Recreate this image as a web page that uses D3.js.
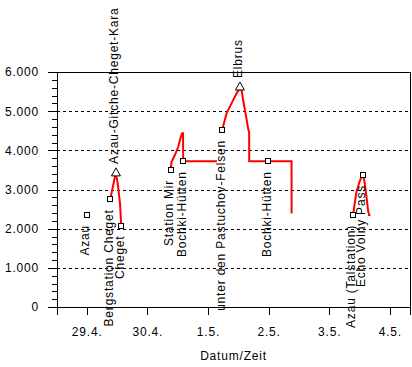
<!DOCTYPE html>
<html>
<head>
<meta charset="utf-8">
<script src="https://cdn.jsdelivr.net/npm/d3@7"></script>
<style>
  body { margin: 0; background: #fff; }
  text { font-family: "Liberation Sans", Arial, sans-serif; font-size: 12px; letter-spacing: 0.8px; fill: #000; }
</style>
</head>
<body>
<div id="chart"></div>
<script>
// track of the tour (null = gap in the record)
var trackTime = [
  "29.04.2006 09:20", "29.04.2006 11:12", "29.04.2006 11:35", "29.04.2006 12:16", "29.04.2006 13:11", "29.04.2006 13:41",
  "29.04.2006 14:00",
  "30.04.2006 09:14", "30.04.2006 09:37", "30.04.2006 10:55", "30.04.2006 12:14", "30.04.2006 13:18", "30.04.2006 13:49",
  "30.04.2006 14:10", "30.04.2006 14:12", "01.05.2006 03:33",
  "01.05.2006 04:00",
  "01.05.2006 05:38", "01.05.2006 07:23", "01.05.2006 09:21", "01.05.2006 11:20", "01.05.2006 12:22", "01.05.2006 13:19",
  "01.05.2006 13:57", "01.05.2006 15:01", "01.05.2006 15:56", "01.05.2006 16:19", "01.05.2006 16:21", "02.05.2006 09:06",
  "02.05.2006 09:08",
  "02.05.2006 12:00",
  "03.05.2006 09:28", "03.05.2006 10:08", "03.05.2006 10:48", "03.05.2006 11:50", "03.05.2006 12:47", "03.05.2006 13:25",
  "03.05.2006 14:05", "03.05.2006 14:46", "03.05.2006 15:23", "03.05.2006 15:47", "03.05.2006 16:21"
];
var trackElev = [
  2750, 3330, 3400, 3170, 2650, 2080,
  null,
  3500, 3710, 3880, 4090, 4350, 4435,
  4435, 3720, 3720,
  null,
  4520, 4945, 5200, 5455, 5560, 5540,
  5285, 4900, 4550, 4460, 3720, 3720,
  2390,
  null,
  2350, 2650, 2945, 3160, 3325, 3395,
  3160, 2815, 2475, 2350, 2350
];

// waypoints
var wpName = ["Azau", "Bergstation Cheget", "Azau-Gitche-Cheget-Kara", "Cheget", "Station Mir", "Bochki-Hütten",
  "unter den Pastuchov-Felsen", "Elbrus", "Bochki-Hütten", "Azau (Talstation)", "Echo Volny Pass"];
var wpTime = ["29.04.2006 00:00", "29.04.2006 09:20", "29.04.2006 11:35", "29.04.2006 13:41", "30.04.2006 09:14",
  "30.04.2006 14:12", "01.05.2006 05:38", "01.05.2006 12:40", "01.05.2006 23:50", "03.05.2006 09:28", "03.05.2006 13:25"];
var wpElev = [2350, 2750, 3450, 2080, 3500, 3720, 4520, 5642, 3720, 2350, 3370];
var wpType = ["hut", "hut", "peak", "hut", "hut", "hut", "hut", "peak", "hut", "hut", "hut"];

var yTicks = [0, 1000, 2000, 3000, 4000, 5000, 6000];
var xTicks = ["29.04.2006 00:00", "30.04.2006 00:00", "01.05.2006 00:00", "02.05.2006 00:00", "03.05.2006 00:00", "04.05.2006 00:00"];
var xDomain = ["28.04.2006 12:15", "04.05.2006 08:00"];

var parse = d3.timeParse("%d.%m.%Y %H:%M");

var margin = {top: 72, right: 2, bottom: 60, left: 57},
    W = 412, H = 367,
    width = W - margin.left - margin.right,
    height = H - margin.top - margin.bottom;

var svg = d3.select("#chart").append("svg")
    .attr("width", W)
    .attr("height", H)
  .append("g")
    .attr("transform", "translate(" + margin.left + "," + margin.top + ")");

var x = d3.scaleTime().domain(xDomain.map(parse)).range([0, width]);
var y = d3.scaleLinear().domain([0, 6000]).range([height, 0]);

// grid
svg.selectAll(".grid")
    .data(yTicks.filter(function(d){ return d > 0 && d < 6000; }))
    .enter().append("line")
    .attr("x1", 0).attr("x2", width)
    .attr("y1", function(d){ return Math.round(y(d)) + 0.5; })
    .attr("y2", function(d){ return Math.round(y(d)) + 0.5; })
    .attr("stroke", "#000")
    .attr("stroke-dasharray", "3,3");

// minor y ticks
svg.append("g")
    .call(d3.axisLeft(y).tickValues(d3.range(0, 6001, 200)).tickSize(5).tickFormat(""))
    .call(function(g){ g.select(".domain").remove(); });

var fmtY = function(d){ return d === 0 ? "0" : d3.format(",")(d).replace(",", "."); };
var yAxis = svg.append("g")
    .call(d3.axisLeft(y).tickValues(yTicks).tickSize(9).tickPadding(9).tickFormat(fmtY));

var xAxis = svg.append("g")
    .attr("transform", "translate(0," + height + ")")
    .call(d3.axisBottom(x).tickValues(xTicks.map(parse)).tickSize(8).tickPadding(12).tickFormat(d3.timeFormat("%-d.%-m.")));

svg.selectAll(".tick line, .domain").attr("stroke", "#000").attr("shape-rendering", "crispEdges");
svg.selectAll(".tick text").attr("font-size", null).attr("font-family", null);
yAxis.attr("font-size", null).attr("font-family", null);
xAxis.attr("font-size", null).attr("font-family", null);

// frame
svg.append("rect")
    .attr("x", 0).attr("y", 0)
    .attr("width", width).attr("height", height)
    .attr("fill", "none").attr("stroke", "#000")
    .attr("shape-rendering", "crispEdges");

svg.append("text")
    .attr("x", width / 2)
    .attr("y", height + 53)
    .attr("text-anchor", "middle")
    .text("Datum/Zeit");

// track
var track = trackTime.map(function(t, i){ return {t: parse(t), v: trackElev[i]}; });
var line = d3.line()
    .defined(function(d){ return d.v !== null; })
    .x(function(d){ return x(d.t); })
    .y(function(d){ return y(d.v); });

svg.append("path")
    .datum(track)
    .attr("d", line)
    .attr("fill", "none")
    .attr("stroke", "#ff0000")
    .attr("stroke-width", 2);

// waypoints
var wps = wpName.map(function(n, i){ return {name: n, t: parse(wpTime[i]), v: wpElev[i], type: wpType[i]}; });

svg.selectAll(".hut")
    .data(wps.filter(function(d){ return d.type === "hut"; }))
    .enter().append("rect")
    .attr("class", "hut")
    .attr("x", function(d){ return Math.round(x(d.t)) - 2.5; })
    .attr("y", function(d){ return Math.round(y(d.v)) - 2.5; })
    .attr("width", 5).attr("height", 5)
    .attr("fill", "#fff").attr("stroke", "#000");

svg.selectAll(".peak")
    .data(wps.filter(function(d){ return d.type === "peak"; }))
    .enter().append("path")
    .attr("class", "peak")
    .attr("transform", function(d){ return "translate(" + x(d.t) + "," + y(d.v) + ")"; })
    .attr("d", "M0,-4L4.5,4L-4.5,4Z")
    .attr("fill", "#fff").attr("stroke", "#000");

svg.selectAll(".wplabel")
    .data(wps)
    .enter().append("text")
    .attr("class", "wplabel")
    .attr("transform", function(d){
        var off = d.type === "peak" ? -8 : 10;
        return "translate(" + x(d.t) + "," + (y(d.v) + off) + ") rotate(-90)";
    })
    .attr("dy", "0.2em")
    .attr("text-anchor", function(d){ return d.type === "peak" ? "start" : "end"; })
    .text(function(d){ return d.name; });
</script>
</body>
</html>
